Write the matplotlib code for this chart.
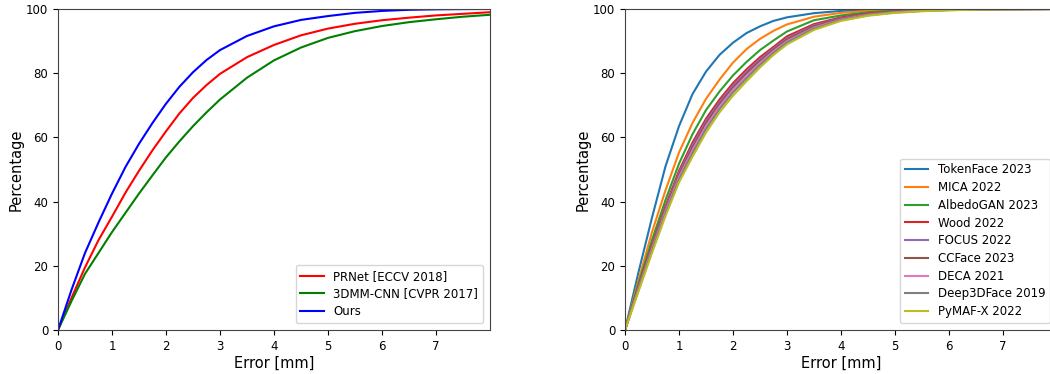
import matplotlib
matplotlib.use("Agg")
import matplotlib.pyplot as plt

# ---- Left panel data ----
err_left = [0, 0.25, 0.5, 0.75, 1, 1.25, 1.5, 1.75, 2, 2.25, 2.5, 2.75, 3,
            3.5, 4, 4.5, 5, 5.5, 6, 6.5, 7, 7.5, 8]
prnet = [0, 10, 19.5, 28, 35.3, 42.8, 49.6, 56, 61.9, 67.5, 72.3, 76.3, 79.8,
         85, 88.8, 91.8, 93.9, 95.4, 96.5, 97.3, 98, 98.5, 99]
cnn3dmm = [0, 9, 17.5, 24, 30.5, 36.5, 42.5, 48.2, 53.8, 58.8, 63.5, 67.8, 71.8,
           78.6, 84, 88, 91, 93.1, 94.7, 95.9, 96.8, 97.6, 98.2]
ours = [0, 12.5, 24, 33.5, 42.5, 50.8, 58, 64.5, 70.5, 75.8, 80.3, 84.1, 87.2,
        91.6, 94.6, 96.6, 97.8, 98.8, 99.4, 99.75, 99.9, 99.97, 100]
left_labels = ["PRNet [ECCV 2018]", "3DMM-CNN [CVPR 2017]", "Ours"]
left_colors = ["red", "green", "blue"]

# ---- Right panel data ----
err_right = [0, 0.25, 0.5, 0.75, 1, 1.25, 1.5, 1.75, 2, 2.25, 2.5, 2.75, 3,
             3.5, 4, 4.5, 5, 5.5, 6, 6.5, 7, 8]
tokenface = [0, 18, 35, 51, 63.5, 73.5, 80.5, 85.7, 89.5, 92.5, 94.6, 96.3, 97.4,
             98.7, 99.4, 99.75, 99.9, 99.97, 100, 100, 100, 100]
mica = [0, 15.5, 30.5, 43.5, 55.3, 64.5, 72, 78, 83.3, 87.5, 90.7, 93.2, 95.2,
        97.6, 98.8, 99.4, 99.75, 99.9, 99.97, 100, 100, 100]
albedogan = [0, 14.5, 28, 40.5, 51.8, 61, 68.5, 74.3, 79.3, 83.5, 87.2, 90.2, 93,
             96.5, 98, 99, 99.5, 99.8, 99.9, 99.95, 100, 100]
wood = [0, 13.6, 26.5, 38.6, 49.6, 58.4, 65.8, 71.8, 76.9, 81.2, 85, 88.2, 91.5,
        95.3, 97.4, 98.6, 99.25, 99.6, 99.8, 99.9, 99.95, 100]
focus = [0, 13.2, 26, 37.9, 48.9, 57.5, 65, 71, 76.1, 80.5, 84.3, 87.7, 90.9,
         94.9, 97.1, 98.4, 99.15, 99.55, 99.75, 99.9, 99.95, 100]
ccface = [0, 13.0, 25.6, 37.4, 48.3, 56.8, 64.3, 70.4, 75.5, 79.9, 83.8, 87.3, 90.5,
          94.6, 96.9, 98.3, 99.1, 99.5, 99.7, 99.85, 99.93, 100]
deca = [0, 12.8, 25.2, 36.9, 47.6, 56, 63.5, 69.6, 74.8, 79.2, 83.2, 86.8, 90,
        94.2, 96.7, 98.2, 99.0, 99.45, 99.7, 99.85, 99.92, 100]
deep3dface = [0, 12.5, 24.7, 36.3, 46.9, 55.1, 62.6, 68.8, 74, 78.4, 82.6, 86.3, 89.6,
              93.9, 96.5, 98.05, 98.9, 99.4, 99.65, 99.8, 99.9, 100]
pymafx = [0, 12, 24, 35.5, 46, 54, 61.5, 67.8, 73, 77.5, 81.8, 85.7, 89,
          93.5, 96.3, 97.9, 98.8, 99.3, 99.6, 99.8, 99.9, 100]
right_series = [tokenface, mica, albedogan, wood, focus, ccface, deca, deep3dface, pymafx]
right_labels = ["TokenFace 2023", "MICA 2022", "AlbedoGAN 2023", "Wood 2022",
                "FOCUS 2022", "CCFace 2023", "DECA 2021", "Deep3DFace 2019",
                "PyMAF-X 2022"]

xticks = [0, 1, 2, 3, 4, 5, 6, 7]
yticks = [0, 20, 40, 60, 80, 100]

fig = plt.figure(figsize=(10.5, 3.74), dpi=100)
ax1 = fig.add_axes([58 / 1050, 1 - 330 / 374, 432 / 1050, 321 / 374])
ax2 = fig.add_axes([625 / 1050, 1 - 330 / 374, 432 / 1050, 321 / 374])

for ys, lab, c in zip([prnet, cnn3dmm, ours], left_labels, left_colors):
    ax1.plot(err_left, ys, color=c, lw=1.5, label=lab)

for i, (ys, lab) in enumerate(zip(right_series, right_labels)):
    ax2.plot(err_right, ys, color=f"C{i}", lw=1.5, label=lab)

for ax in (ax1, ax2):
    ax.set_xlim(0, 8)
    ax.set_ylim(0, 100)
    ax.set_xticks(xticks)
    ax.set_yticks(yticks)
    ax.tick_params(labelsize=8.5, length=3.5)
    ax.set_xlabel("Error [mm]", fontsize=10.5, labelpad=2)
    ax.set_ylabel("Percentage", fontsize=10.5, labelpad=2)
    for s in ax.spines.values():
        s.set_color("#444444")
    ax.legend(loc="lower right", fontsize=8.5, handlelength=2.0,
              borderaxespad=0.6, labelspacing=0.4)

fig.savefig("out.png", dpi=100)
